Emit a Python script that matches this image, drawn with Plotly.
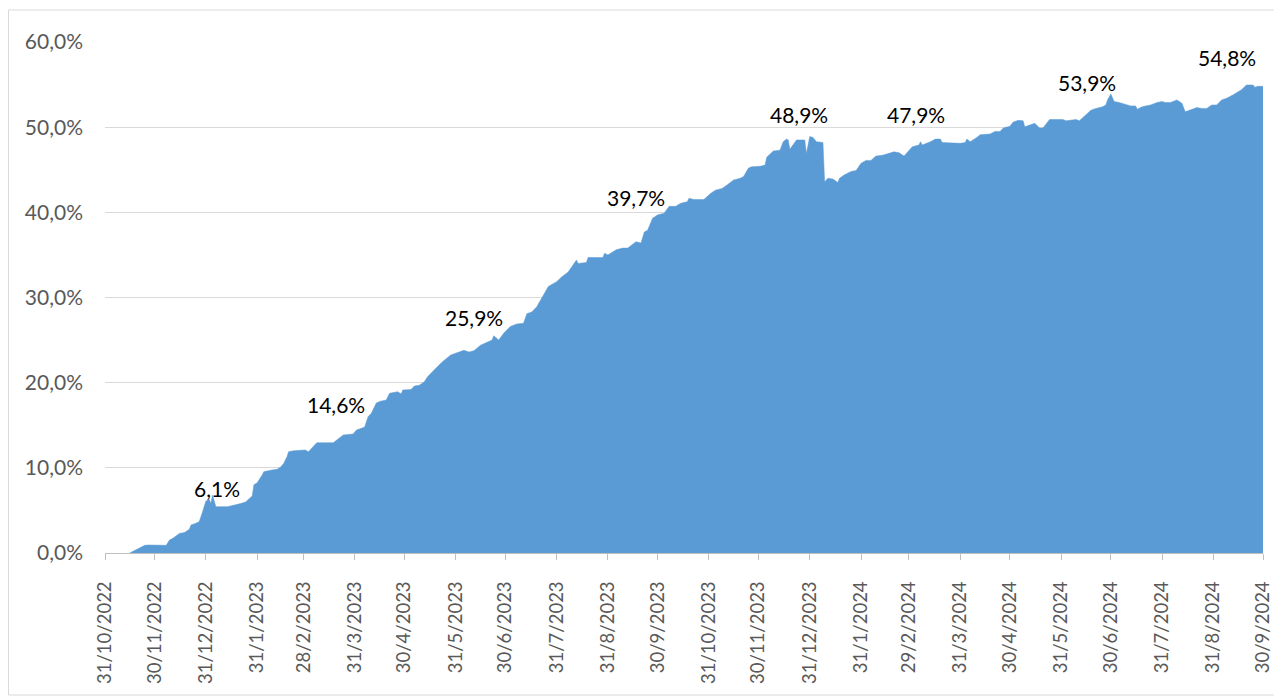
import plotly.graph_objects as go

dates = [
    "2022-11-15", "2022-11-16", "2022-11-20", "2022-11-24", "2022-11-26", "2022-12-07", "2022-12-09",
    "2022-12-11", "2022-12-15", "2022-12-18", "2022-12-21", "2022-12-22", "2022-12-25", "2022-12-27",
    "2022-12-29", "2022-12-31", "2023-01-02", "2023-01-03", "2023-01-04", "2023-01-06", "2023-01-13",
    "2023-01-17", "2023-01-21", "2023-01-24", "2023-01-26", "2023-01-28", "2023-01-29", "2023-01-31",
    "2023-02-03", "2023-02-04", "2023-02-09", "2023-02-12", "2023-02-14", "2023-02-15", "2023-02-16",
    "2023-02-18", "2023-02-19", "2023-02-22", "2023-03-01", "2023-03-03", "2023-03-05", "2023-03-08",
    "2023-03-18", "2023-03-20", "2023-03-24", "2023-03-30", "2023-04-01", "2023-04-04", "2023-04-06",
    "2023-04-08", "2023-04-10", "2023-04-13", "2023-04-15", "2023-04-19", "2023-04-21", "2023-04-26",
    "2023-04-28", "2023-04-29", "2023-05-04", "2023-05-06", "2023-05-09", "2023-05-12", "2023-05-14",
    "2023-05-19", "2023-05-23", "2023-05-28", "2023-06-01", "2023-06-05", "2023-06-08", "2023-06-11",
    "2023-06-15", "2023-06-19", "2023-06-22", "2023-06-23", "2023-06-26", "2023-06-29", "2023-07-03",
    "2023-07-07", "2023-07-11", "2023-07-13", "2023-07-16", "2023-07-19", "2023-07-22", "2023-07-26",
    "2023-07-31", "2023-08-03", "2023-08-07", "2023-08-10", "2023-08-12", "2023-08-13", "2023-08-18",
    "2023-08-19", "2023-08-28", "2023-08-29", "2023-08-31", "2023-09-05", "2023-09-09", "2023-09-12",
    "2023-09-15", "2023-09-17", "2023-09-20", "2023-09-22", "2023-09-24", "2023-09-27", "2023-09-30",
    "2023-10-04", "2023-10-07", "2023-10-11", "2023-10-14", "2023-10-18", "2023-10-19", "2023-10-22",
    "2023-10-28", "2023-11-01", "2023-11-04", "2023-11-08", "2023-11-11", "2023-11-15", "2023-11-19",
    "2023-11-21", "2023-11-24", "2023-11-26", "2023-12-01", "2023-12-04", "2023-12-05", "2023-12-09",
    "2023-12-13", "2023-12-15", "2023-12-17", "2023-12-18", "2023-12-19", "2023-12-23", "2023-12-28",
    "2023-12-29", "2023-12-31", "2024-01-02", "2024-01-04", "2024-01-08", "2024-01-09", "2024-01-11",
    "2024-01-14", "2024-01-17", "2024-01-18", "2024-01-21", "2024-01-25", "2024-01-28", "2024-01-31",
    "2024-02-03", "2024-02-06", "2024-02-09", "2024-02-13", "2024-02-20", "2024-02-23", "2024-02-26",
    "2024-03-02", "2024-03-06", "2024-03-07", "2024-03-08", "2024-03-13", "2024-03-16", "2024-03-19",
    "2024-03-20", "2024-03-31", "2024-04-03", "2024-04-04", "2024-04-06", "2024-04-10", "2024-04-12",
    "2024-04-18", "2024-04-21", "2024-04-24", "2024-04-26", "2024-04-30", "2024-05-02", "2024-05-05",
    "2024-05-08", "2024-05-09", "2024-05-12", "2024-05-15", "2024-05-18", "2024-05-20", "2024-05-24",
    "2024-05-28", "2024-06-01", "2024-06-03", "2024-06-09", "2024-06-11", "2024-06-14", "2024-06-18",
    "2024-06-21", "2024-06-25", "2024-06-27", "2024-06-28", "2024-06-30", "2024-07-01", "2024-07-02",
    "2024-07-05", "2024-07-09", "2024-07-12", "2024-07-15", "2024-07-16", "2024-07-19", "2024-07-24",
    "2024-07-28", "2024-07-31", "2024-08-02", "2024-08-05", "2024-08-09", "2024-08-12", "2024-08-14",
    "2024-08-17", "2024-08-21", "2024-08-24", "2024-08-27", "2024-08-30", "2024-09-02", "2024-09-05",
    "2024-09-08", "2024-09-12", "2024-09-15", "2024-09-17", "2024-09-20", "2024-09-24", "2024-09-25",
    "2024-09-27", "2024-09-30",
]
values = [
    0.0, 0.1, 0.43, 0.9, 0.94, 0.9, 1.53,
    1.72, 2.3, 2.4, 2.78, 3.3, 3.5, 3.7,
    4.85, 6.1, 6.3, 5.8, 6.8, 5.44, 5.44,
    5.6, 5.8, 6.0, 6.3, 6.7, 8.0, 8.25,
    9.16, 9.55, 9.75, 9.83, 10.06, 10.33, 10.5,
    11.3, 11.9, 12.0, 12.1, 11.9, 12.3, 12.95,
    12.95, 13.27, 13.85, 13.97, 14.44, 14.64, 14.8,
    16.0, 16.4, 17.6, 17.8, 17.96, 18.75, 18.94,
    18.67, 19.14, 19.2, 19.6, 19.7, 20.1, 20.7,
    21.7, 22.46, 23.25, 23.5, 23.8, 23.6, 23.75,
    24.4, 24.7, 25.0, 25.5, 25.0, 25.8, 26.6,
    26.9, 26.97, 28.1, 28.3, 28.9, 29.9, 31.3,
    31.85, 32.4, 33.0, 33.8, 34.4, 34.0, 34.1,
    34.7, 34.7, 35.2, 35.0, 35.6, 35.8, 35.8,
    36.2, 36.55, 36.4, 37.7, 37.9, 39.3, 39.7,
    39.9, 40.7, 40.7, 41.06, 41.25, 41.65, 41.5,
    41.5, 42.2, 42.6, 42.8, 43.2, 43.8, 44.0,
    44.2, 45.2, 45.35, 45.4, 45.55, 46.46, 47.2,
    47.3, 48.3, 48.6, 48.5, 47.4, 48.5, 48.5,
    46.9, 48.9, 48.8, 48.3, 48.2, 43.6, 44.0,
    43.9, 43.5, 44.0, 44.4, 44.8, 44.9, 45.75,
    46.1, 46.1, 46.6, 46.7, 47.1, 47.0, 46.6,
    47.7, 47.9, 48.3, 47.9, 48.3, 48.6, 48.6,
    48.2, 48.1, 48.2, 48.6, 48.3, 48.8, 49.1,
    49.2, 49.5, 49.5, 49.9, 50.1, 50.6, 50.8,
    50.75, 50.05, 50.25, 50.45, 49.9, 49.9, 50.9,
    50.9, 50.9, 50.75, 50.9, 50.75, 51.3, 52.0,
    52.2, 52.4, 52.6, 53.2, 53.9, 53.4, 53.0,
    52.9, 52.7, 52.5, 52.5, 52.1, 52.4, 52.6,
    52.9, 53.0, 52.9, 52.9, 53.2, 52.8, 51.8,
    52.0, 52.3, 52.2, 52.2, 52.6, 52.6, 53.2,
    53.4, 53.8, 54.2, 54.4, 54.95, 54.95, 54.7,
    54.8, 54.8,
]

# Data labels
label_texts = ["6,1%", "14,6%", "25,9%", "39,7%", "48,9%", "47,9%", "53,9%", "54,8%"]
label_dates = ["2023-01-07", "2023-03-19 14:00", "2023-06-11", "2023-09-17",
               "2023-12-24 12:00", "2024-03-04", "2024-06-15 14:00", "2024-09-08"]
label_values = [7.63, 17.4, 27.7, 41.8, 51.5, 51.5, 55.3, 58.2]

# Axis ticks
x_tickvals = ["2022-10-31", "2022-11-30", "2022-12-31", "2023-01-31", "2023-02-28", "2023-03-31",
              "2023-04-30", "2023-05-31", "2023-06-30", "2023-07-31", "2023-08-31", "2023-09-30",
              "2023-10-31", "2023-11-30", "2023-12-31", "2024-01-31", "2024-02-29", "2024-03-31",
              "2024-04-30", "2024-05-31", "2024-06-30", "2024-07-31", "2024-08-31", "2024-09-30"]
x_ticktext = ["31/10/2022", "30/11/2022", "31/12/2022", "31/1/2023", "28/2/2023", "31/3/2023",
              "30/4/2023", "31/5/2023", "30/6/2023", "31/7/2023", "31/8/2023", "30/9/2023",
              "31/10/2023", "30/11/2023", "31/12/2023", "31/1/2024", "29/2/2024", "31/3/2024",
              "30/4/2024", "31/5/2024", "30/6/2024", "31/7/2024", "31/8/2024", "30/9/2024"]
y_tickvals = [0, 10, 20, 30, 40, 50, 60]
y_ticktext = ["0,0%", "10,0%", "20,0%", "30,0%", "40,0%", "50,0%", "60,0%"]

FONT = "Lato, 'Open Sans', sans-serif"
FSIZE = 21
BLUE = "#5B9BD5"

fig = go.Figure()
fig.add_trace(go.Scatter(
    x=dates, y=values, mode="lines", fill="tozeroy",
    line=dict(color=BLUE, width=0.5), fillcolor=BLUE, showlegend=False,
))

for t, d, v in zip(label_texts, label_dates, label_values):
    fig.add_annotation(x=d, y=v, text=t, showarrow=False,
                       font=dict(family=FONT, size=FSIZE, color="#000000"))

# page has an 8px body margin
W, H = 1274, 688
L, R, T, B = 97, 19, 34, 143
pw, ph = W - L - R, H - T - B

def px_x(p):
    return (p - L) / pw

def px_y(p):
    return (H - B - p) / ph

fig.add_shape(type="rect", xref="paper", yref="paper",
              x0=px_x(0.5), x1=px_x(1273), y0=px_y(687), y1=px_y(2),
              line=dict(color="#d9d9d9", width=1), fillcolor="rgba(0,0,0,0)", layer="below")

fig.update_layout(
    width=W, height=H,
    margin=dict(l=L, r=R, t=T, b=B, pad=0, autoexpand=False),
    paper_bgcolor="white", plot_bgcolor="white",
    font=dict(family=FONT, size=FSIZE, color="#595959"),
    xaxis=dict(
        type="date", range=["2022-10-31", "2024-09-30"],
        tickmode="array", tickvals=x_tickvals, ticktext=x_ticktext,
        tickangle=-90, ticks="outside", ticklen=6, tickcolor="#bfbfbf", tickwidth=1,
        showline=True, linecolor="#bfbfbf", linewidth=1,
        showgrid=False, zeroline=False, automargin=False,
        ticklabelstandoff=14,
        tickfont=dict(family=FONT, size=18.5, color="#595959"),
    ),
    yaxis=dict(
        range=[0, 60], tickmode="array", tickvals=y_tickvals, ticktext=y_ticktext,
        showgrid=True, gridcolor="#d9d9d9", gridwidth=1,
        zeroline=False, showline=False, ticks="", automargin=False,
        ticklabelstandoff=21,
        tickfont=dict(family=FONT, size=FSIZE, color="#595959"),
    ),
)

fig.write_html("out.html")
